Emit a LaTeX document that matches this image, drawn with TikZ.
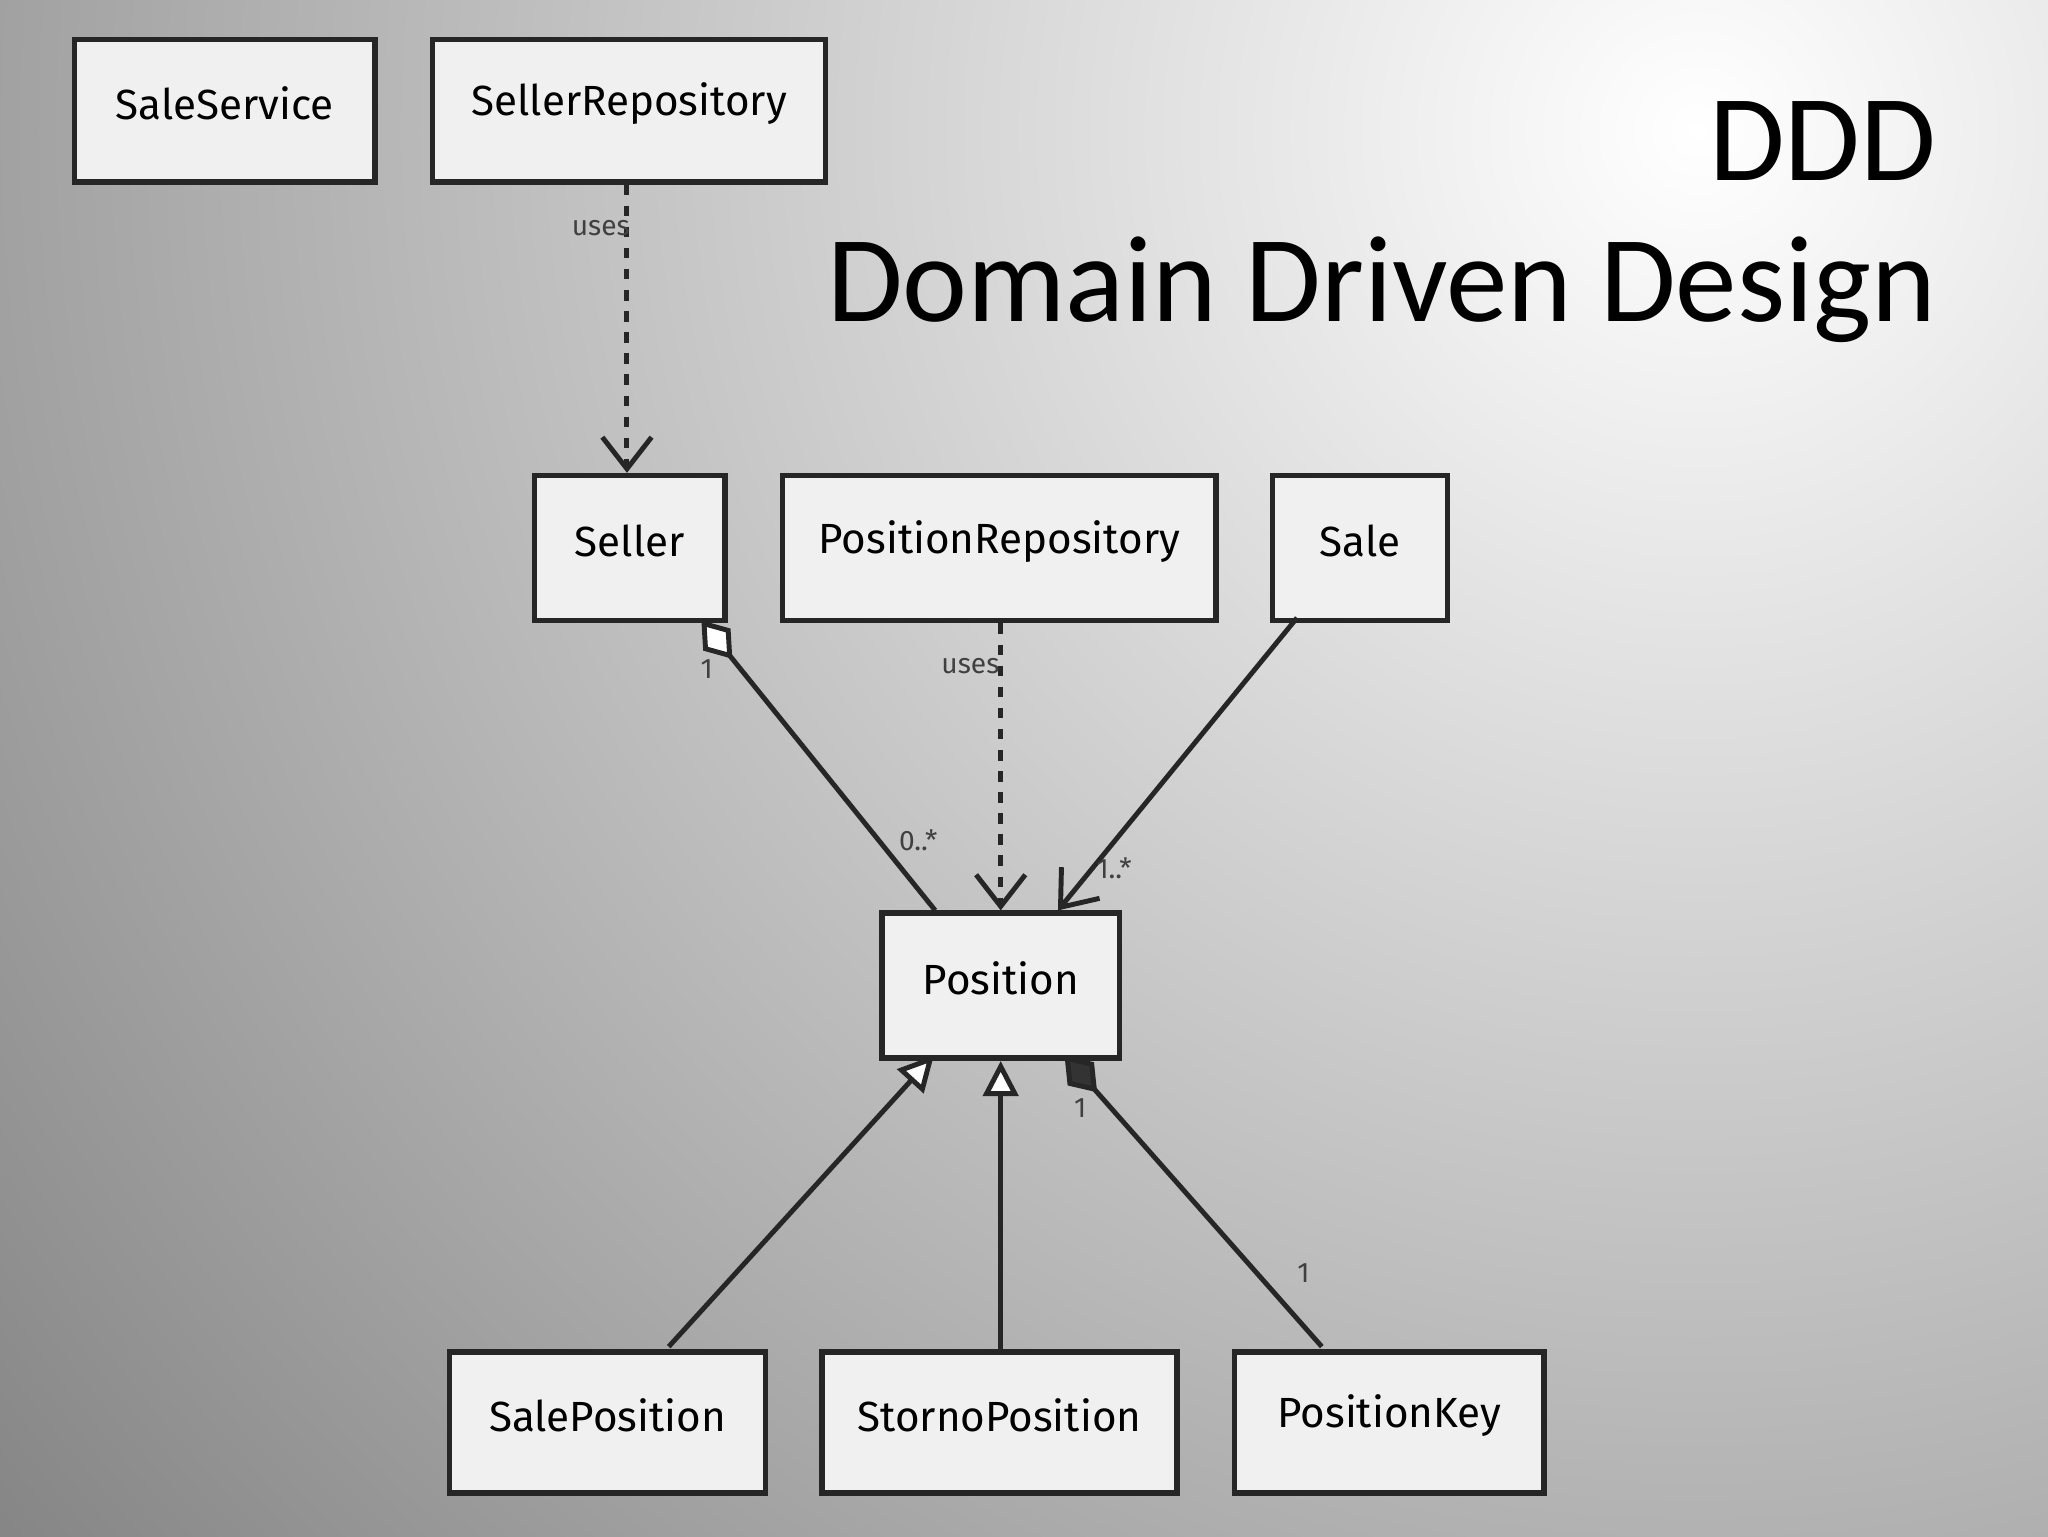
\documentclass[tikz,border=0pt]{standalone}
\usepackage{fontspec}
\setmainfont{Carlito}
\newfontfamily\hand{Fira Sans}
\usetikzlibrary{arrows.meta,shadings}
\begin{document}
\begin{tikzpicture}[x=0.3715pt,y=-0.3715pt,
  box/.style={draw=black!85,line width=1.6pt,fill=white!94!black,inner sep=0pt,anchor=north west},
  conn/.style={draw=black!85,line width=1.4pt},
  lbl/.style={font=\hand\fontsize{8}{9}\selectfont,text=black!75}]
\useasboundingbox (0,0) rectangle (1568,1176);
\fill[black!48] (0,0) rectangle (1568,1176);
\shade[inner color=white,outer color=black!48] (1300,100) circle (1700);
\newcommand{\bx}[5]{\node[box,minimum width=#4*0.3715pt,minimum height=#5*0.3715pt] (#1) at (#2,#3) {};}
\bx{ss}{55}{28}{230}{109}
\bx{sr}{329}{28}{301}{109}
\bx{sel}{407}{362}{146}{111}
\bx{pr}{597}{362}{332}{111}
\bx{sale}{972}{362}{134}{111}
\bx{pos}{673}{697}{182}{111}
\bx{sp}{342}{1033}{242}{108}
\bx{stp}{627}{1033}{272}{108}
\bx{pk}{943}{1033}{237}{108}
\foreach \n/\t in {ss/SaleService,sr/SellerRepository,sel/Seller,pr/PositionRepository,sale/Sale,pos/Position,sp/SalePosition,stp/StornoPosition,pk/PositionKey}
  \node[font=\hand\fontsize{12}{14}\selectfont] at ([yshift=2pt]\n.center) {\t};
\node[anchor=east,font=\fontsize{35}{42}\selectfont] at (1492,108) {DDD};
\node[anchor=east,font=\fontsize{35}{42}\selectfont] at (1492,222) {Domain Driven Design};
\coordinate (a1) at (480,137); \coordinate (a2) at (480,360);
\draw[conn,dashed,-{Straight Barb[length=9pt,width=14pt]}] (sr.south -| a1) -- (sel.north -| a2);
\node[lbl] at (460,175) {uses};
\draw[conn,{Diamond[open,fill=white,length=14pt,width=10pt]}-] (537,475) -- (716,697);
\node[lbl] at (541,512) {1};
\node[lbl] at (703,643) {0..*};
\draw[conn,dashed,-{Straight Barb[length=9pt,width=14pt]}] (pr.south -| pos.north) -- (pos.north);
\node[lbl] at (743,510) {uses};
\draw[conn,-{Straight Barb[length=9pt,width=14pt]}] (993,473) -- (810,697);
\node[lbl] at (853,665) {1..*};
\draw[conn,-{Triangle[open,fill=white,length=10pt,width=10pt]}] (512,1031) -- (715,808);
\draw[conn,-{Triangle[open,fill=white,length=10pt,width=10pt]}] (stp.north -| pos.south) -- (pos.south);
\draw[conn,{Diamond[fill=black!80,length=14pt,width=10pt]}-] (815,808) -- (1012,1031);
\node[lbl] at (827,848) {1};
\node[lbl] at (998,975) {1};
\end{tikzpicture}
\end{document}
